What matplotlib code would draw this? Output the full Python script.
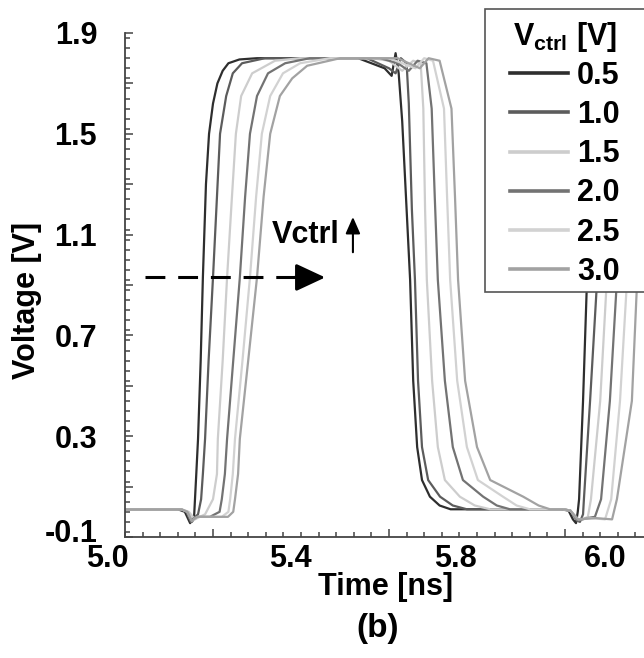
import matplotlib
matplotlib.use("Agg")
import matplotlib.pyplot as plt
from matplotlib.patches import Rectangle
from matplotlib.ticker import MultipleLocator, NullFormatter
from matplotlib.transforms import blended_transform_factory, ScaledTranslation

plt.rcParams['font.family'] = ['Liberation Sans', 'DejaVu Sans']
plt.rcParams['font.weight'] = 'bold'
plt.rcParams['mathtext.fontset'] = 'custom'
plt.rcParams['mathtext.rm'] = 'Liberation Sans:bold'
plt.rcParams['mathtext.bf'] = 'Liberation Sans:bold'

# Vctrl values and trace colours
vctrl_labels = ['0.5', '1.0', '1.5', '2.0', '2.5', '3.0']
trace_colors = ['#2e2e2e', '#5c5c5c', '#cdcdcd', '#737373', '#d2d2d2', '#a2a2a2']

# traces: time [ns], voltage [V]
c05_t = [5.000, 5.120, 5.136, 5.148, 5.157, 5.162, 5.166, 5.172, 5.177, 5.184, 5.191,
         5.200, 5.210, 5.222, 5.235, 5.260, 5.300, 5.530, 5.590, 5.606, 5.615, 5.622,
         5.630, 5.640, 5.648, 5.655, 5.664, 5.675, 5.693, 5.715, 5.740, 5.990, 6.008,
         6.018, 6.025, 6.029, 6.032, 6.041, 6.050, 6.061, 6.075, 6.091, 6.136, 6.180]
c05_v = [0.010, 0.010, 0.000, -0.045, -0.020, 0.150, 0.290, 0.600, 0.930, 1.300, 1.500,
         1.620, 1.700, 1.750, 1.780, 1.795, 1.800, 1.800, 1.760, 1.730, 1.820, 1.740,
         1.550, 1.200, 0.920, 0.520, 0.257, 0.126, 0.060, 0.025, 0.010, 0.010, 0.005,
         -0.030, -0.045, 0.000, 0.050, 0.440, 0.920, 1.500, 1.690, 1.760, 1.800, 1.800]

c10_t = [5.000, 5.125, 5.140, 5.152, 5.160, 5.166, 5.173, 5.177, 5.182, 5.190, 5.200,
         5.209, 5.216, 5.230, 5.245, 5.266, 5.318, 5.550, 5.600, 5.615, 5.627, 5.640,
         5.645, 5.652, 5.659, 5.666, 5.675, 5.689, 5.716, 5.745, 5.777, 5.995, 6.012,
         6.027, 6.034, 6.041, 6.043, 6.057, 6.073, 6.089, 6.120, 6.170]
c10_v = [0.010, 0.010, 0.000, -0.040, -0.020, -0.010, 0.050, 0.150, 0.290, 0.600, 0.930,
         1.250, 1.500, 1.650, 1.740, 1.780, 1.800, 1.800, 1.760, 1.740, 1.800, 1.780,
         1.620, 1.200, 0.920, 0.520, 0.257, 0.126, 0.060, 0.025, 0.010, 0.010, 0.005,
         -0.035, -0.040, -0.010, 0.050, 0.440, 0.920, 1.500, 1.750, 1.800]

c15_t = [5.000, 5.128, 5.145, 5.159, 5.170, 5.182, 5.200, 5.209, 5.211, 5.222, 5.232,
         5.242, 5.252, 5.264, 5.289, 5.341, 5.398, 5.560, 5.600, 5.630, 5.655, 5.672,
         5.678, 5.682, 5.686, 5.698, 5.711, 5.727, 5.761, 5.795, 5.830, 5.995, 6.012,
         6.027, 6.039, 6.052, 6.059, 6.080, 6.095, 6.116, 6.152, 6.205]
c15_v = [0.010, 0.010, 0.000, -0.030, -0.020, -0.010, 0.050, 0.150, 0.290, 0.600, 0.930,
         1.220, 1.500, 1.650, 1.740, 1.790, 1.800, 1.800, 1.790, 1.750, 1.790, 1.780,
         1.600, 1.200, 0.920, 0.520, 0.257, 0.126, 0.060, 0.025, 0.010, 0.010, 0.005,
         -0.030, -0.030, -0.020, 0.050, 0.440, 0.920, 1.500, 1.740, 1.790]

c20_t = [5.000, 5.128, 5.140, 5.150, 5.160, 5.193, 5.215, 5.220, 5.227, 5.232, 5.246,
         5.261, 5.273, 5.284, 5.300, 5.325, 5.364, 5.420, 5.580, 5.620, 5.645, 5.665,
         5.685, 5.697, 5.704, 5.711, 5.727, 5.745, 5.768, 5.814, 5.845, 5.875, 5.995,
         6.012, 6.030, 6.050, 6.068, 6.082, 6.102, 6.118, 6.141, 6.182]
c20_v = [0.010, 0.010, 0.000, -0.040, -0.020, -0.020, 0.000, 0.050, 0.150, 0.290, 0.600,
         0.930, 1.250, 1.500, 1.650, 1.740, 1.780, 1.800, 1.800, 1.780, 1.750, 1.790,
         1.780, 1.600, 1.250, 0.920, 0.520, 0.257, 0.126, 0.060, 0.025, 0.010, 0.010,
         0.005, -0.035, -0.025, -0.020, 0.050, 0.440, 0.920, 1.500, 1.740]

c25_t = [5.000, 5.128, 5.142, 5.152, 5.165, 5.220, 5.235, 5.239, 5.245, 5.250, 5.267,
         5.284, 5.298, 5.311, 5.330, 5.359, 5.398, 5.466, 5.600, 5.630, 5.660, 5.680,
         5.700, 5.725, 5.732, 5.739, 5.755, 5.777, 5.802, 5.859, 5.890, 5.920, 5.995,
         6.012, 6.030, 6.060, 6.091, 6.105, 6.125, 6.141, 6.164, 6.205]
c25_v = [0.010, 0.010, 0.000, -0.035, -0.020, -0.020, 0.000, 0.050, 0.150, 0.290, 0.600,
         0.930, 1.250, 1.500, 1.650, 1.740, 1.780, 1.800, 1.800, 1.780, 1.760, 1.800,
         1.790, 1.600, 1.250, 0.920, 0.520, 0.257, 0.126, 0.060, 0.025, 0.010, 0.010,
         0.005, -0.030, -0.025, -0.030, 0.050, 0.440, 0.920, 1.500, 1.740]

c30_t = [5.000, 5.128, 5.142, 5.152, 5.165, 5.234, 5.246, 5.250, 5.257, 5.261, 5.280,
         5.300, 5.315, 5.330, 5.352, 5.380, 5.414, 5.489, 5.620, 5.645, 5.670, 5.690,
         5.715, 5.742, 5.750, 5.757, 5.773, 5.800, 5.830, 5.905, 5.940, 5.966, 5.995,
         6.012, 6.030, 6.070, 6.107, 6.118, 6.152, 6.164, 6.186, 6.227]
c30_v = [0.010, 0.010, 0.000, -0.035, -0.020, -0.020, 0.000, 0.050, 0.150, 0.290, 0.600,
         0.930, 1.250, 1.500, 1.650, 1.720, 1.770, 1.800, 1.800, 1.780, 1.760, 1.800,
         1.790, 1.600, 1.250, 0.920, 0.520, 0.257, 0.126, 0.060, 0.025, 0.010, 0.010,
         0.005, -0.030, -0.025, -0.030, 0.050, 0.440, 0.920, 1.500, 1.740]

traces_t = [c05_t, c10_t, c15_t, c20_t, c25_t, c30_t]
traces_v = [c05_v, c10_v, c15_v, c20_v, c25_v, c30_v]

# axis labels as they stand in the picture (the "6.0" sits off the tick grid)
xtick_text = ['5.0', '5.4', '5.8', '6.0']
xtick_text_pos = [4.959, 5.375, 5.750, 6.091]
ytick_labels = ['-0.1', '', '0.3', '', '0.7', '', '1.1', '', '1.5', '', '1.9']

FS = 22

fig = plt.figure(figsize=(6.44, 6.58), dpi=100)
ax = fig.add_axes([125 / 644, 121 / 658, 519 / 644, 504 / 658])

for t, v, c, lab in zip(traces_t, traces_v, trace_colors, vctrl_labels):
    ax.plot(t, v, color=c, lw=1.6, label=lab, solid_joinstyle='round')

ax.set_xlim(5.0, 5.0 + 519 / 440)
ax.set_ylim(-0.1, 1.9)

for side in ['top', 'right']:
    ax.spines[side].set_visible(False)
for side in ['left', 'bottom']:
    ax.spines[side].set_color('#444444')
    ax.spines[side].set_linewidth(1.3)

ax.xaxis.set_major_locator(MultipleLocator(0.4))
ax.xaxis.set_minor_locator(MultipleLocator(0.04))
ax.xaxis.set_major_formatter(NullFormatter())
ax.yaxis.set_minor_locator(MultipleLocator(0.04))
ax.set_yticks([-0.1 + 0.2 * k for k in range(11)])
ax.set_yticklabels(ytick_labels)
ax.tick_params(which='both', direction='in', color='#444444', width=1.1)
ax.tick_params(which='major', length=6)
ax.tick_params(which='minor', length=3.5)
ax.tick_params(axis='y', which='major', pad=20, labelsize=FS)

# the lowest y label sits a little above its tick in the picture
low = ax.get_yticklabels()[0]
low.set_transform(low.get_transform() + ScaledTranslation(0, 7 / 100, fig.dpi_scale_trans))

# x labels placed where the picture has them
trans = blended_transform_factory(ax.transData, ax.transAxes)
for s, xp in zip(xtick_text, xtick_text_pos):
    ax.text(xp, -0.044, s, transform=trans, ha='center', va='center',
            fontsize=FS, fontweight='bold', clip_on=False)

fig.text(27 / 644, 1 - 300 / 658, 'Voltage [V]', rotation=90, ha='center', va='center',
         fontsize=FS, fontweight='bold')
fig.text(386 / 644, 1 - 587 / 658, 'Time [ns]', ha='center', va='center',
         fontsize=FS, fontweight='bold')
fig.text(378 / 644, 1 - 628 / 658, '(b)', ha='center', va='center',
         fontsize=24, fontweight='bold')

# dashed arrow and Vctrl annotation
ax.plot([5.045, 5.393], [0.93, 0.93], color='black', lw=2.2,
        linestyle=(0, (6.5, 4.2)))
ax.annotate('', xy=(5.455, 0.93), xytext=(5.385, 0.93),
            arrowprops=dict(arrowstyle='-|>,head_length=0.9,head_width=0.42',
                            mutation_scale=20, color='black', lw=2.2,
                            shrinkA=0, shrinkB=0))
ax.text(5.334, 1.10, 'Vctrl', ha='left', va='center', fontsize=FS, fontweight='bold')
ax.annotate('', xy=(5.518, 1.17), xytext=(5.518, 1.03),
            arrowprops=dict(arrowstyle='-|>,head_length=0.5,head_width=0.22',
                            mutation_scale=20, color='black', lw=1.5,
                            shrinkA=0, shrinkB=0))

# legend box runs past the right edge of the picture
box = Rectangle((485 / 644, 1 - 292 / 658), 200 / 644, 283 / 658,
                transform=fig.transFigure, facecolor='white', edgecolor='#555555',
                lw=1.2, clip_on=False, zorder=4)
ax.add_patch(box)

leg = ax.legend(loc='upper left', bbox_to_anchor=(510 / 644, 1 - 20 / 658),
                bbox_transform=fig.transFigure, borderaxespad=0, borderpad=0,
                title=r'$\mathbf{V}_{\mathbf{ctrl}}$ [V]',
                prop={'weight': 'bold', 'size': FS},
                title_fontproperties={'weight': 'bold', 'size': FS},
                handlelength=1.9, handletextpad=0.3, labelspacing=0.3,
                frameon=False)
leg.set_zorder(5)
leg._legend_box.sep = 5
for h in leg.legend_handles:
    h.set_linewidth(2.6)

fig.savefig('out.png', dpi=100)
